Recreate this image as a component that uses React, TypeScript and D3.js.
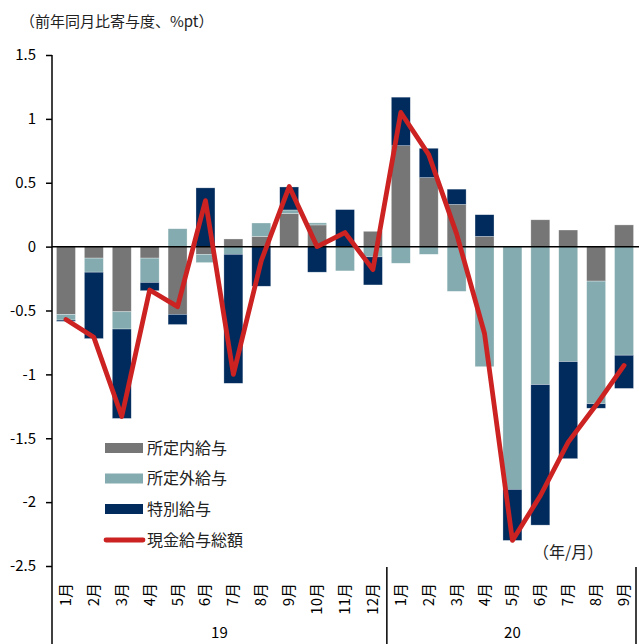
import { useEffect, useRef } from "react";
import * as d3 from "d3";

// 月ラベル (2019/1 - 2020/9)
const months = [
  "1月", "2月", "3月", "4月", "5月", "6月", "7月", "8月", "9月", "10月", "11月", "12月",
  "1月", "2月", "3月", "4月", "5月", "6月", "7月", "8月", "9月",
];
const years = ["19", "20"];
const yearCounts = [12, 9];

// 寄与度 (%pt)
const scheduled = [-0.53, -0.09, -0.51, -0.09, -0.53, -0.06, 0.06, 0.08, 0.26, 0.17, 0, 0.12, 0.79, 0.54, 0.33, 0.08, 0, 0.21, 0.13, -0.27, 0.17];
const overtime = [-0.045, -0.11, -0.135, -0.19, 0.14, -0.065, -0.06, 0.105, 0.027, 0.016, -0.19, -0.08, -0.13, -0.06, -0.35, -0.94, -1.9, -1.08, -0.9, -0.96, -0.85];
const bonus = [-0.01, -0.52, -0.7, -0.065, -0.08, 0.46, -1.01, -0.31, 0.18, -0.2, 0.29, -0.22, 0.38, 0.23, 0.12, 0.17, -0.4, -1.1, -0.76, -0.035, -0.26];
const total = [-0.57, -0.71, -1.33, -0.34, -0.47, 0.36, -1.0, -0.11, 0.47, 0.0, 0.11, -0.18, 1.05, 0.72, 0.1, -0.68, -2.3, -1.95, -1.53, -1.24, -0.93];

const yTicks = [1.5, 1, 0.5, 0, -0.5, -1, -1.5, -2, -2.5];
const seriesNames = ["所定内給与", "所定外給与", "特別給与"];
const lineName = "現金給与総額";
const colors = ["#767676", "#84ABAF", "#002B5C"];
const lineColor = "#CC2222";
const font = "'Noto Sans CJK JP', 'Noto Sans', sans-serif";

export default function App() {
  const ref = useRef<SVGSVGElement | null>(null);

  useEffect(() => {
    if (!ref.current) return;
    const svg = d3.select(ref.current);
    svg.selectAll("*").remove();

    const width = 639, height = 644;
    const left = 52, right = 638, top = 55, bottom = 566;

    const idx = months.map((_, i) => i);
    const x = d3.scaleBand<number>().domain(idx).range([left, right]).paddingInner(0.32).paddingOuter(0.16);
    const y = d3.scaleLinear().domain([-2.5, 1.5]).range([bottom, top]);

    const rows = idx.map(i => ({ i, s0: scheduled[i], s1: overtime[i], s2: bonus[i] }));
    const stack = d3.stack<any>().keys(["s0", "s1", "s2"]).offset(d3.stackOffsetDiverging);
    const layers = stack(rows);

    svg.attr("width", width).attr("height", height).style("font-family", font);

    // bars
    layers.forEach((layer, k) => {
      svg.append("g")
        .selectAll("rect")
        .data(layer)
        .join("rect")
        .attr("x", d => x(d.data.i)!)
        .attr("width", x.bandwidth())
        .attr("y", d => y(Math.max(d[0], d[1])))
        .attr("height", d => Math.abs(y(d[0]) - y(d[1])))
        .attr("fill", colors[k])
        .attr("stroke", "rgba(255,255,255,0.5)")
        .attr("stroke-width", 0.6);
    });

    // zero line
    svg.append("line")
      .attr("x1", left).attr("x2", right + 1)
      .attr("y1", y(0)).attr("y2", y(0))
      .attr("stroke", "#000").attr("stroke-width", 1.5);

    // total line
    const line = d3.line<number>()
      .x((_, i) => x(i)! + x.bandwidth() / 2)
      .y(d => y(d));
    svg.append("path")
      .datum(total)
      .attr("d", line)
      .attr("fill", "none")
      .attr("stroke", lineColor)
      .attr("stroke-width", 4.8)
      .attr("stroke-linejoin", "round")
      .attr("stroke-linecap", "round");

    // y axis
    const yAxis = svg.append("g")
      .attr("transform", `translate(${left},0)`)
      .call(d3.axisLeft(y).tickValues(yTicks).tickFormat(d => String(d)).tickSize(6).tickPadding(10));
    yAxis.select(".domain").remove();
    yAxis.selectAll("line").attr("stroke", "#000").attr("stroke-width", 1.5);
    yAxis.selectAll("text").attr("font-size", 15).attr("fill", "#000").style("font-family", font);
    svg.append("line")
      .attr("x1", left).attr("x2", left)
      .attr("y1", top).attr("y2", height)
      .attr("stroke", "#000").attr("stroke-width", 1.5);

    // month labels
    svg.append("g")
      .selectAll("text")
      .data(idx)
      .join("text")
      .attr("transform", i => `translate(${x(i)! + x.bandwidth() / 2 + 5},583) rotate(-90)`)
      .attr("text-anchor", "end")
      .attr("font-size", 15)
      .attr("fill", "#000")
      .text(i => months[i]);

    // year separators and labels
    let start = 0;
    years.forEach((yr, k) => {
      const end = start + yearCounts[k];
      const x0 = k === 0 ? left : x(start)! - x.step() * x.paddingInner() / 2;
      const x1 = end >= months.length ? right : x(end)! - x.step() * x.paddingInner() / 2;
      if (k > 0) {
        svg.append("line")
          .attr("x1", x0).attr("x2", x0)
          .attr("y1", bottom + 1).attr("y2", height)
          .attr("stroke", "#000").attr("stroke-width", 1.5);
      }
      svg.append("text")
        .attr("x", (x0 + x1) / 2)
        .attr("y", 638)
        .attr("text-anchor", "middle")
        .attr("font-size", 15)
        .attr("fill", "#000")
        .text(yr);
      start = end;
    });
    svg.append("line")
      .attr("x1", right - 2).attr("x2", right - 2)
      .attr("y1", bottom + 1).attr("y2", height)
      .attr("stroke", "#000").attr("stroke-width", 1.5);

    // legend
    const lg = svg.append("g");
    seriesNames.forEach((name, k) => {
      const cy = 448 + k * 30.5;
      lg.append("rect")
        .attr("x", 105).attr("y", cy - 5).attr("width", 38).attr("height", 10)
        .attr("fill", colors[k]);
      lg.append("text")
        .attr("x", 147).attr("y", cy).attr("dy", "0.35em")
        .attr("font-size", 16).attr("fill", "#222")
        .text(name);
    });
    lg.append("line")
      .attr("x1", 106).attr("x2", 143).attr("y1", 540).attr("y2", 540)
      .attr("stroke", lineColor).attr("stroke-width", 4.8).attr("stroke-linecap", "round");
    lg.append("text")
      .attr("x", 147).attr("y", 540).attr("dy", "0.35em")
      .attr("font-size", 16).attr("fill", "#222")
      .text(lineName);

    // titles
    svg.append("text")
      .attr("x", 20).attr("y", 27)
      .attr("font-size", 15).attr("fill", "#222")
      .text("（前年同月比寄与度、%pt）");
    svg.append("text")
      .attr("x", 533).attr("y", 558)
      .attr("font-size", 16).attr("fill", "#222")
      .text("（年/月）");
  }, []);

  return <svg ref={ref} style={{ position: "absolute", left: 0, top: 0 }} />;
}
